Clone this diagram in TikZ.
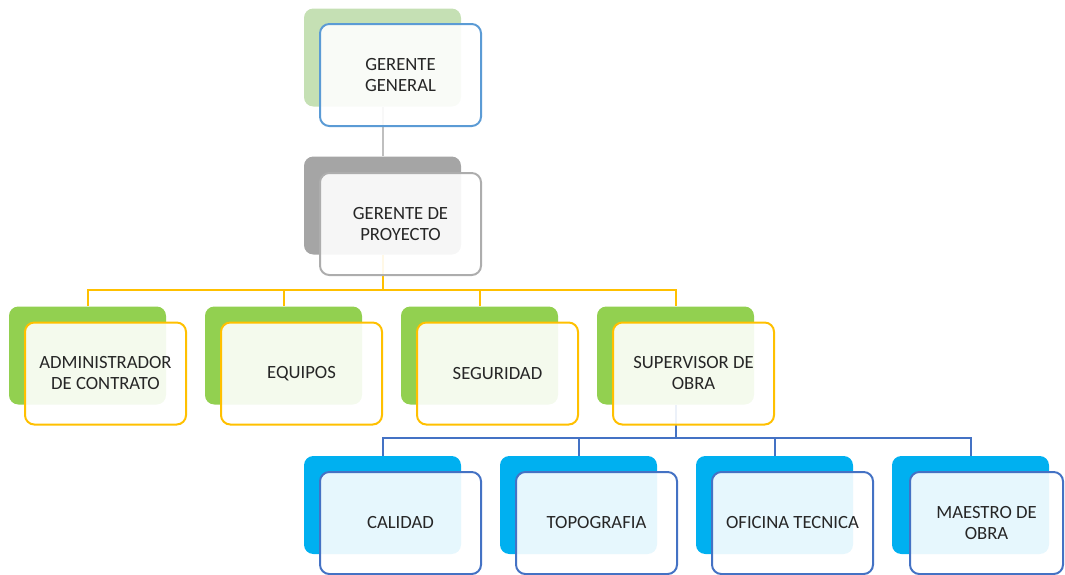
\documentclass[tikz,border=0pt]{standalone}
\usepackage{fontspec}
\setmainfont{Carlito}
\usetikzlibrary{positioning}

\definecolor{ggback}{HTML}{C5E0B4}
\definecolor{ggline}{HTML}{5B9BD5}
\definecolor{gpback}{HTML}{A5A5A5}
\definecolor{gpline}{HTML}{ADADAD}
\definecolor{lnkgray}{HTML}{BFBFBF}
\definecolor{grnback}{HTML}{92D050}
\definecolor{yelline}{HTML}{FFC000}
\definecolor{cyaback}{HTML}{00B0F0}
\definecolor{bluline}{HTML}{4472C4}
\definecolor{txtgray}{HTML}{262626}

\tikzset{
  backbox/.style={rounded corners=7pt, minimum width=117.75pt, minimum height=73.5pt, inner sep=0pt},
  frontbox/.style={draw=#1, line width=1.5pt, rounded corners=7pt, fill=white, fill opacity=0.9,
    text opacity=1, minimum width=120.75pt, minimum height=76.5pt, inner sep=0pt,
    align=center, text=txtgray, font=\fontsize{14}{15.75}\selectfont},
  link/.style={line width=1.5pt, draw=#1}
}

\begin{document}
\begin{tikzpicture}[x=0.75pt, y=-0.75pt]
	\useasboundingbox (0,0) rectangle (1065,575);

	% back boxes
	\node[backbox, fill=ggback] (gg-b) at (382.5, 57.5) {};
	\node[backbox, fill=gpback] (gp-b) at (382.5, 205.5) {};

	\node[backbox, fill=grnback] (adm-b) at (87.5, 355.5) {};
	\node[backbox, fill=grnback] (equ-b) at (283.5, 355.5) {};
	\node[backbox, fill=grnback] (seg-b) at (479.5, 355.5) {};
	\node[backbox, fill=grnback] (sup-b) at (675.5, 355.5) {};

	\node[backbox, fill=cyaback] (cal-b) at (382.5, 505) {};
	\node[backbox, fill=cyaback] (top-b) at (578.5, 505) {};
	\node[backbox, fill=cyaback] (ofi-b) at (774.5, 505) {};
	\node[backbox, fill=cyaback] (mae-b) at (970.5, 505) {};

	% connectors
	\coordinate (ybar) at (382.5, 290);
	\coordinate (bbar) at (675.5, 438);

	\draw[link=lnkgray] (gg-b.south) -- (gp-b.north);

	\draw[link=yelline] (gp-b.south) -- (ybar);
	\foreach \n in {adm, equ, seg, sup}
		\draw[link=yelline] (ybar) -| (\n-b.north);

	\draw[link=bluline] (sup-b.south) -- (bbar);
	\foreach \n in {cal, top, ofi, mae}
		\draw[link=bluline] (bbar) -| (\n-b.north);

	% front boxes
	\node[frontbox=ggline] (gg) at (400.5, 75) {GERENTE\\GENERAL};
	\node[frontbox=gpline] (gp) at (400.5, 224) {GERENTE DE\\PROYECTO};

	\node[frontbox=yelline] (adm) at (105.5, 373.5) {ADMINISTRADOR\\DE CONTRATO};
	\node[frontbox=yelline] (equ) at (301.5, 373.5) {EQUIPOS};
	\node[frontbox=yelline] (seg) at (497.5, 373.5) {SEGURIDAD};
	\node[frontbox=yelline] (sup) at (693.5, 373.5) {SUPERVISOR DE\\OBRA};

	\node[frontbox=bluline] (cal) at (400.5, 523) {CALIDAD};
	\node[frontbox=bluline] (top) at (596.5, 523) {TOPOGRAFIA};
	\node[frontbox=bluline] (ofi) at (792.5, 523) {OFICINA TECNICA};
	\node[frontbox=bluline, minimum width=114.75pt] (mae) at (986.5, 523) {MAESTRO DE\\OBRA};

\end{tikzpicture}
\end{document}
